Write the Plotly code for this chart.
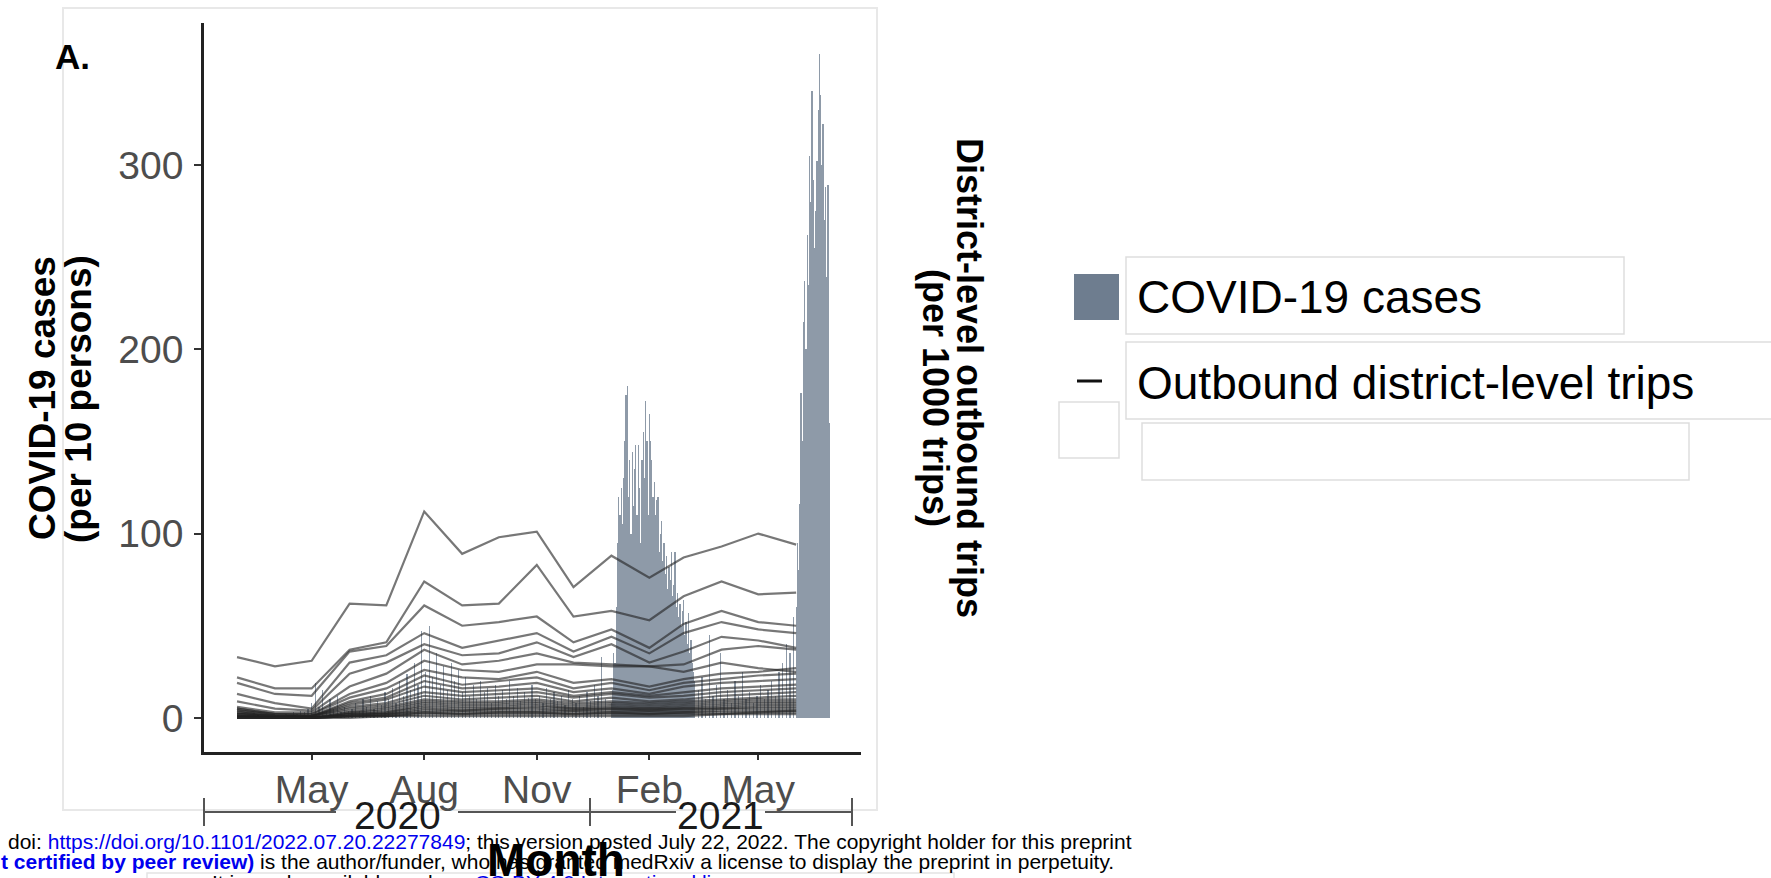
import pandas as pd
import plotly.graph_objects as go

W, H = 1771, 878
PL, PR, PT, PB = 204, 861, 23, 752   # plot box in pixels

# ---------------- data ----------------
x_tick_dates = ["2020-05-01", "2020-08-01", "2020-11-01", "2021-02-01", "2021-05-01"]
x_tick_labels = ["May", "Aug", "Nov", "Feb", "May"]
y_tick_vals = [0, 100, 200, 300]
year_labels = ["2020", "2021"]

month_dates = pd.date_range("2020-03-01", "2021-06-01", freq="MS")  # 16 months

trips_d01 = [33, 28, 31, 62, 61, 112, 89, 98, 101, 71, 88, 76, 87, 93, 100, 94]
trips_d02 = [22, 16, 16, 37, 41, 74, 61, 62, 83, 55, 58, 53, 66, 74, 67, 68]
trips_d03 = [19, 13, 12, 36, 39, 61, 50, 52, 55, 41, 48, 38, 51, 58, 52, 50]
trips_d04 = [13, 8, 5, 30, 34, 46, 38, 42, 46, 36, 44, 35, 46, 52, 48, 46]
trips_d05 = [9, 5, 4, 24, 30, 40, 34, 35, 41, 33, 40, 30, 36, 44, 42, 38]
trips_d06 = [6, 3, 3, 17, 24, 37, 29, 31, 35, 30, 29, 28, 29, 37, 39, 37]
trips_d07 = [5, 2, 2, 13, 19, 31, 26, 25, 29, 29, 28, 28, 25, 30, 27, 25]
trips_d08 = [5, 2, 2, 11, 16, 26, 22, 21, 25, 19, 21, 17, 21, 24, 25, 27]
trips_d09 = [4, 2, 1, 9, 13, 23, 18, 20, 22, 16, 19, 15, 19, 21, 23, 24]
trips_d10 = [4, 1, 1, 8, 11, 20, 16, 17, 19, 14, 16, 13, 17, 19, 20, 21]
trips_d11 = [3, 1, 1, 7, 10, 17, 14, 15, 16, 12, 14, 12, 14, 16, 17, 18]
trips_d12 = [3, 1, 1, 6, 8, 14, 12, 13, 14, 11, 13, 11, 12, 14, 15, 16]
trips_d13 = [2, 1, 1, 5, 7, 12, 10, 11, 12, 9, 11, 9, 10, 12, 13, 14]
trips_d14 = [2, 1, 1, 4, 6, 10, 9, 9, 10, 8, 9, 8, 9, 10, 11, 12]
trips_d15 = [2, 1, 0, 3, 5, 9, 8, 8, 9, 7, 8, 7, 8, 9, 10, 10]
trips_d16 = [1, 1, 0, 3, 4, 8, 7, 7, 8, 6, 7, 6, 7, 8, 9, 9]
trips_d17 = [1, 0, 0, 2, 3, 7, 6, 6, 7, 5, 6, 5, 6, 7, 8, 8]
trips_d18 = [1, 0, 0, 2, 3, 6, 5, 5, 6, 5, 5, 5, 5, 6, 7, 7]
trips_d19 = [1, 0, 0, 2, 2, 5, 4, 5, 5, 4, 5, 4, 5, 5, 6, 6]
trips_d20 = [1, 0, 0, 1, 2, 4, 4, 4, 4, 4, 4, 4, 4, 5, 5, 5]
trips_d21 = [0, 0, 0, 1, 2, 3, 3, 3, 3, 3, 3, 3, 3, 4, 4, 4]
trips_d22 = [0, 0, 0, 1, 1, 3, 2, 3, 3, 2, 3, 2, 3, 3, 3, 4]
trips_d23 = [0, 0, 0, 1, 1, 2, 2, 2, 2, 2, 2, 2, 2, 2, 3, 3]
trips_d24 = [0, 0, 0, 0, 1, 1, 1, 1, 1, 1, 1, 1, 1, 2, 2, 2]

districts = [trips_d01, trips_d02, trips_d03, trips_d04, trips_d05, trips_d06,
             trips_d07, trips_d08, trips_d09, trips_d10, trips_d11, trips_d12,
             trips_d13, trips_d14, trips_d15, trips_d16, trips_d17, trips_d18,
             trips_d19, trips_d20, trips_d21, trips_d22, trips_d23, trips_d24]

# COVID-19 cases (per 10 persons)
cases_2020_every3days = [  # from 2020-04-01, every 3 days
    0, 1, 0, 2, 1, 3, 2, 4, 3, 5,
    8, 19, 6, 15, 4, 10, 5, 12, 3, 6, 4,
    5, 8, 4, 10, 6, 12, 5, 9, 7, 14,
    10, 16, 8, 20, 12, 24, 15, 30, 18, 47,
    25, 50, 22, 35, 18, 28, 15, 30, 20, 26, 14,
    22, 12, 18, 10, 20, 14, 16, 8, 18, 12,
    15, 10, 20, 12, 16, 9, 14, 11, 18, 10,
    12, 8, 16, 10, 14, 9, 12, 7, 15, 10,
    8, 12, 6, 14, 9, 18, 12, 33, 10]
cases_wave1_daily = [  # from 2021-01-01, daily
    8, 15, 35, 30, 60, 95, 120, 110, 125, 105,
    130, 150, 175, 180, 120, 140, 100, 144, 115, 135,
    148, 110, 148, 125, 95, 140, 155, 130, 172, 150, 110,
    165, 150, 140, 120, 128, 110, 118, 120, 90, 100,
    107, 85, 95, 78, 88, 70, 82, 75, 90, 66,
    72, 90, 60, 68, 55, 62, 50, 58,
    64, 45, 52, 40, 57, 35, 42, 30, 25, 20]
cases_spring_every3days = [  # from 2021-03-13, every 3 days
    15, 22, 10, 45, 12, 18, 35, 10, 15, 8, 20, 12, 25, 10,
    14, 8, 12, 18, 10, 15, 20, 12, 25, 30, 40, 35, 55]
cases_wave2_daily = [  # from 2021-06-01, daily
    60, 95, 80, 116, 176, 150, 215, 237, 200, 262,
    235, 305, 280, 340, 292, 255, 275, 302, 330, 360,
    338, 300, 322, 270, 288, 239, 289, 160]

case_dates = (list(pd.date_range("2020-04-01", periods=len(cases_2020_every3days), freq="3D"))
              + list(pd.date_range("2021-01-01", periods=len(cases_wave1_daily), freq="D"))
              + list(pd.date_range("2021-03-13", periods=len(cases_spring_every3days), freq="3D"))
              + list(pd.date_range("2021-06-01", periods=len(cases_wave2_daily), freq="D")))
case_values = cases_2020_every3days + cases_wave1_daily + cases_spring_every3days + cases_wave2_daily

# ---------------- helpers (pixel -> paper) ----------------
def px(x):
    return (x - PL) / (PR - PL)

def py(y):
    return (PB - y) / (PB - PT)

FONT = "Liberation Sans, Arial, Helvetica, sans-serif"
BAR_COLOR = "rgba(110,125,143,0.78)"
SWATCH = "#6e7d8f"

fig = go.Figure()
fig.add_trace(go.Bar(
    x=case_dates, y=case_values, width=86400000,
    marker=dict(color=BAR_COLOR, line=dict(width=0)),
    name="COVID-19 cases", showlegend=False, hoverinfo="x+y"))

for i, d in enumerate(districts):
    fig.add_trace(go.Scatter(
        x=month_dates, y=d, mode="lines",
        line=dict(color="rgba(35,35,35,0.62)", width=2.2),
        name="Outbound district-level trips", showlegend=False))

shapes = []
def rect(x0, y0, x1, y1, line="#dedede", fill=None, w=1.5, layer="below"):
    shapes.append(dict(type="rect", xref="paper", yref="paper",
                       x0=px(x0), x1=px(x1), y0=py(y0), y1=py(y1),
                       line=dict(color=line, width=w if line else 0),
                       fillcolor=fill if fill else "rgba(0,0,0,0)", layer=layer))

def hline(x0, x1, y, color="#555", w=2):
    shapes.append(dict(type="line", xref="paper", yref="paper",
                       x0=px(x0), x1=px(x1), y0=py(y), y1=py(y),
                       line=dict(color=color, width=w)))

def vline(x, y0, y1, color="#555", w=2):
    shapes.append(dict(type="line", xref="paper", yref="paper",
                       x0=px(x), x1=px(x), y0=py(y0), y1=py(y1),
                       line=dict(color=color, width=w)))

# panel frame
rect(63, 8, 877, 810, line="#e8e8e8", w=2)
# legend boxes
rect(1126, 257, 1624, 334)
rect(1126, 342, 1775, 419)
rect(1059, 402, 1119, 458)
rect(1142, 423, 1689, 480)
rect(147, 873, 954, 900, line="#e4e4e4")
# legend swatch & line key
rect(1074, 274, 1119, 320, line=None, fill=SWATCH, layer="above")
hline(1077, 1102, 381, color="#111", w=3)
# year brackets
hline(204, 336, 812)
hline(458, 590, 812)
hline(590, 676, 812)
hline(765, 852, 812)
vline(204, 798, 826)
vline(590, 798, 826)
vline(852, 798, 826)

ann = []
def text(x, y, s, size, color="#000", bold=False, angle=0, xanchor="center", yanchor="middle"):
    ann.append(dict(xref="paper", yref="paper", x=px(x), y=py(y), text=("<b>%s</b>" % s) if bold else s,
                    showarrow=False, textangle=angle, xanchor=xanchor, yanchor=yanchor,
                    font=dict(family=FONT, size=size, color=color)))

text(72, 56, "A.", 35, bold=True)
text(42, 398, "COVID-19 cases", 37, bold=True, angle=-90)
text(79, 399, "(per 10 persons)", 37, bold=True, angle=-90)
text(970, 378, "District-level outbound trips", 36, bold=True, angle=90)
text(936, 398, "(per 1000 trips)", 36, bold=True, angle=90)
text(397, 815, year_labels[0], 39, color="#1a1a1a")
text(720, 815, year_labels[1], 39, color="#1a1a1a")
text(1135, 297, "COVID-19 cases", 46, xanchor="left")
text(1135, 383, "Outbound district-level trips", 46, xanchor="left")
text(556, 860, "Month", 46, bold=True)
BLUE = "#0000ee"
text(6, 841, 'doi: <span style="color:%s">https://doi.org/10.1101/2022.07.20.22277849</span>; '
     'this version posted July 22, 2022. The copyright holder for this preprint' % BLUE, 21,
     color="#000", xanchor="left")
text(-1, 861, '<b><span style="color:%s">t certified by peer review)</span></b> is the author/funder, '
     'who has granted medRxiv a license to display the preprint in perpetuity.' % BLUE, 21,
     color="#000", xanchor="left")
text(210, 882, 'It is made available under a <span style="color:%s">CC-BY 4.0 International license</span> .' % BLUE,
     21, color="#000", xanchor="left")

fig.update_layout(
    width=W, height=H,
    margin=dict(l=PL, r=W - PR, t=PT, b=H - PB, pad=0),
    paper_bgcolor="white", plot_bgcolor="white",
    showlegend=False, bargap=0,
    xaxis=dict(type="date", range=["2020-02-03", "2021-07-24"],
               tickvals=x_tick_dates, ticktext=x_tick_labels,
               ticks="outside", ticklen=5, tickwidth=1.5, tickcolor="#333",
               showline=True, linecolor="#222", linewidth=2.5,
               showgrid=False, zeroline=False, ticklabelstandoff=-4,
               tickfont=dict(family=FONT, size=39, color="#4d4d4d")),
    yaxis=dict(range=[-18.5, 377], tickvals=y_tick_vals,
               ticks="outside", ticklen=7, tickwidth=1.5, tickcolor="#333",
               showline=True, linecolor="#222", linewidth=2.5,
               showgrid=False, zeroline=False, ticklabelstandoff=3,
               tickfont=dict(family=FONT, size=39, color="#4d4d4d")),
    shapes=shapes, annotations=ann,
)

fig.write_html("out.html", config={"displayModeBar": False},
               post_script="document.body.style.margin='0px';")
